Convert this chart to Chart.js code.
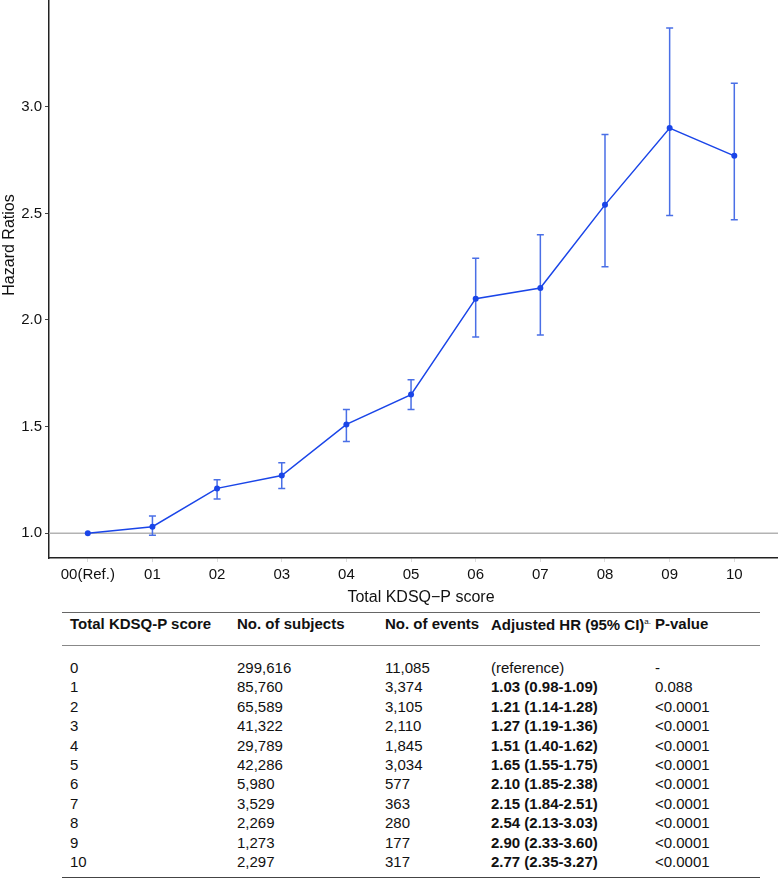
<!DOCTYPE html>
<html>
<head>
<meta charset="utf-8">
<script src="https://cdn.jsdelivr.net/npm/chart.js@4"></script>
<style>
    html, body {
        margin: 0;
        padding: 0;
        width: 778px;
        height: 882px;
        overflow: hidden;
        background: #fff;
        font-family: "Liberation Sans", Arial, sans-serif;
    }
    #wrap {
        position: absolute;
        left: 0;
        top: -72px;
        width: 797px;
        height: 682px;
    }
    #hr-table {
        position: absolute;
        left: 62px;
        top: 612px;
        width: 698px;
        table-layout: fixed;
        border-collapse: collapse;
        font-size: 15px;
        color: #111;
    }
    #hr-table th {
        text-align: left;
        font-weight: bold;
        line-height: 17px;
        padding: 0 0 12px 8px;
        border-top: 1.5px solid #666;
        border-bottom: 1.5px solid #888;
        white-space: nowrap;
    }
    #hr-table td {
        line-height: 19.4px;
        padding: 0 0 0 8px;
        white-space: nowrap;
    }
    #hr-table tbody tr:first-child td { padding-top: 12px; }
    #hr-table tbody tr:last-child td { padding-bottom: 6px; border-bottom: 1.5px solid #444; }
    #hr-table td.hr { font-weight: bold; }
    #hr-table sup { font-size: 8px; font-weight: normal; vertical-align: 6px; }
</style>
</head>
<body>
<div id="wrap"><canvas id="chart" width="797" height="682"></canvas></div>

<table id="hr-table">
    <colgroup>
        <col style="width:167px"><col style="width:148px"><col style="width:106px"><col style="width:164px"><col style="width:113px">
    </colgroup>
    <thead>
    <tr>
        <th>Total KDSQ-P score</th>
        <th>No. of subjects</th>
        <th>No. of events</th>
        <th>Adjusted HR (95% CI)<sup>a.</sup></th>
        <th>P-value</th>
    </tr>
    </thead>
    <tbody id="table-body"></tbody>
</table>

<script>
// chart values
const scoreLabels = ['00(Ref.)', '01', '02', '03', '04', '05', '06', '07', '08', '09', '10'];
const hazardRatios = [1.00, 1.03, 1.21, 1.27, 1.51, 1.65, 2.10, 2.15, 2.54, 2.90, 2.77];
const ciLower = [1.00, 0.99, 1.16, 1.21, 1.43, 1.58, 1.92, 1.93, 2.25, 2.49, 2.47];
const ciUpper = [1.00, 1.08, 1.25, 1.33, 1.58, 1.72, 2.29, 2.40, 2.87, 3.37, 3.11];
const yTicks = [1.0, 1.5, 2.0, 2.5, 3.0];

// table values
const tableScores = ['0', '1', '2', '3', '4', '5', '6', '7', '8', '9', '10'];
const subjects = ['299,616', '85,760', '65,589', '41,322', '29,789', '42,286', '5,980', '3,529', '2,269', '1,273', '2,297'];
const events = ['11,085', '3,374', '3,105', '2,110', '1,845', '3,034', '577', '363', '280', '177', '317'];
const adjustedHR = ['(reference)', '1.03 (0.98-1.09)', '1.21 (1.14-1.28)', '1.27 (1.19-1.36)', '1.51 (1.40-1.62)',
    '1.65 (1.55-1.75)', '2.10 (1.85-2.38)', '2.15 (1.84-2.51)', '2.54 (2.13-3.03)', '2.90 (2.33-3.60)', '2.77 (2.35-3.27)'];
const pValues = ['-', '0.088', '<0.0001', '<0.0001', '<0.0001', '<0.0001', '<0.0001', '<0.0001', '<0.0001', '<0.0001', '<0.0001'];

const tbody = document.getElementById('table-body');
for (let i = 0; i < tableScores.length; i++) {
    const tr = document.createElement('tr');
    const cells = [tableScores[i], subjects[i], events[i], adjustedHR[i], pValues[i]];
    cells.forEach((text, c) => {
        const td = document.createElement('td');
        td.textContent = text;
        if (c === 3 && i > 0) td.className = 'hr';
        tr.appendChild(td);
    });
    tbody.appendChild(tr);
}

const FONT = '"Liberation Sans", Arial, sans-serif';
const LINE_BLUE = '#1a45e8';
const BAR_BLUE = '#4a6fe6';

// reference line at HR = 1 and the CI whiskers
const hrExtras = {
    id: 'hrExtras',
    beforeDatasetsDraw(chart) {
        const {ctx, chartArea, scales: {x, y}} = chart;
        const y1 = y.getPixelForValue(1);
        ctx.save();
        ctx.strokeStyle = '#b3b3b3';
        ctx.lineWidth = 1.5;
        ctx.beginPath();
        ctx.moveTo(chartArea.left, y1);
        ctx.lineTo(chartArea.right, y1);
        ctx.stroke();

        ctx.strokeStyle = BAR_BLUE;
        ctx.lineWidth = 1.5;
        for (let i = 0; i < hazardRatios.length; i++) {
            if (ciUpper[i] === ciLower[i]) continue;
            const px = x.getPixelForValue(i);
            const top = y.getPixelForValue(ciUpper[i]);
            const bot = y.getPixelForValue(ciLower[i]);
            ctx.beginPath();
            ctx.moveTo(px, top);
            ctx.lineTo(px, bot);
            ctx.moveTo(px - 3.5, top);
            ctx.lineTo(px + 3.5, top);
            ctx.moveTo(px - 3.5, bot);
            ctx.lineTo(px + 3.5, bot);
            ctx.stroke();
        }
        ctx.restore();
    }
};

new Chart(document.getElementById('chart'), {
    type: 'line',
    data: {
        datasets: [{
            data: hazardRatios.map((v, i) => ({x: i, y: v})),
            borderColor: LINE_BLUE,
            backgroundColor: LINE_BLUE,
            borderWidth: 1.5,
            pointRadius: 3,
            pointBorderWidth: 0,
            tension: 0,
        }]
    },
    options: {
        responsive: false,
        animation: false,
        layout: {padding: 0},
        plugins: {
            legend: {display: false},
            tooltip: {enabled: false},
        },
        scales: {
            x: {
                type: 'linear',
                min: -0.6,
                max: 10.908,
                afterBuildTicks: (scale) => {
                    scale.ticks = scoreLabels.map((_, i) => ({value: i}));
                },
                afterFit: (scale) => {
                    scale.height = 52;
                    scale.paddingLeft = 0;
                    scale.paddingRight = 0;
                },
                ticks: {
                    autoSkip: false,
                    maxRotation: 0,
                    padding: 4,
                    color: '#111',
                    font: {family: FONT, size: 15},
                    callback: (v) => scoreLabels[v],
                },
                grid: {
                    drawOnChartArea: false,
                    tickLength: 4,
                    color: '#ddd',
                },
                border: {color: '#222', width: 1.5},
                title: {
                    display: true,
                    text: 'Total KDSQ\u2212P score',
                    color: '#111',
                    font: {family: FONT, size: 16},
                    padding: {top: 0, bottom: 3},
                },
            },
            y: {
                type: 'linear',
                min: 0.8834,
                max: 3.82,
                afterBuildTicks: (scale) => {
                    scale.ticks = yTicks.map(v => ({value: v}));
                },
                afterFit: (scale) => {
                    scale.width = 49;
                    scale.paddingTop = 0;
                    scale.paddingBottom = 0;
                },
                ticks: {
                    padding: 3,
                    color: '#111',
                    font: {family: FONT, size: 15},
                    callback: (v) => v.toFixed(1),
                },
                grid: {
                    drawOnChartArea: false,
                    tickLength: 4,
                    color: '#444',
                },
                border: {color: '#222', width: 1.5},
                title: {
                    display: true,
                    text: 'Hazard Ratios',
                    color: '#111',
                    font: {family: FONT, size: 16},
                    padding: {top: 0, bottom: 0},
                },
            },
        },
    },
    plugins: [hrExtras],
});
</script>
</body>
</html>
